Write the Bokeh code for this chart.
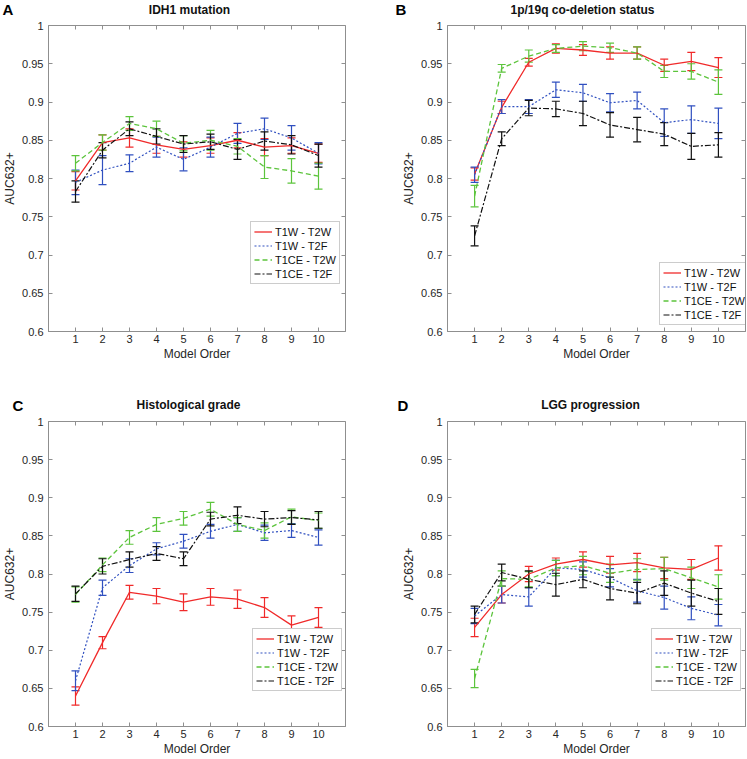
from bokeh.plotting import figure
from bokeh.models import (ColumnDataSource, Whisker, TeeHead, FixedTicker, Legend,
                          LegendItem, LinearAxis, Range1d, Label)
from bokeh.layouts import column, row
from bokeh.embed import file_html
from bokeh.resources import INLINE

# ---------------- data ----------------
model_order = [1, 2, 3, 4, 5, 6, 7, 8, 9, 10]
x_ticks = [1, 2, 3, 4, 5, 6, 7, 8, 9, 10]
x_tick_labels = ["1", "2", "3", "4", "5", "6", "7", "8", "9", "10"]
y_ticks = [0.6, 0.65, 0.7, 0.75, 0.8, 0.85, 0.9, 0.95, 1.0]
y_tick_labels = ["0.6", "0.65", "0.7", "0.75", "0.8", "0.85", "0.9", "0.95", "1"]
series_labels = ["T1W - T2W", "T1W - T2F", "T1CE - T2W", "T1CE - T2F"]
panel_letters = ["A", "B", "C", "D"]
panel_titles = ["IDH1 mutation", "1p/19q co-deletion status",
                "Histological grade", "LGG progression"]
x_label = "Model Order"
y_label = "AUC632+"

# A: IDH1 mutation
idh1_t1w_t2w = [0.797, 0.847, 0.853, 0.844, 0.838, 0.843, 0.850, 0.841, 0.843, 0.833]
idh1_t1w_t2w_err = [0.012, 0.010, 0.012, 0.011, 0.010, 0.010, 0.010, 0.011, 0.010, 0.012]
idh1_t1w_t2f = [0.795, 0.811, 0.820, 0.841, 0.825, 0.841, 0.859, 0.865, 0.853, 0.833]
idh1_t1w_t2f_err = [0.016, 0.019, 0.011, 0.013, 0.015, 0.013, 0.013, 0.014, 0.016, 0.014]
idh1_t1ce_t2w = [0.820, 0.847, 0.872, 0.865, 0.846, 0.850, 0.842, 0.815, 0.810, 0.803]
idh1_t1ce_t2w_err = [0.010, 0.010, 0.009, 0.010, 0.010, 0.013, 0.010, 0.015, 0.016, 0.017]
idh1_t1ce_t2f = [0.783, 0.837, 0.865, 0.855, 0.845, 0.848, 0.838, 0.849, 0.844, 0.830]
idh1_t1ce_t2f_err = [0.014, 0.010, 0.009, 0.010, 0.011, 0.010, 0.013, 0.012, 0.012, 0.015]

# B: 1p/19q co-deletion status
codel_t1w_t2w = [0.806, 0.893, 0.952, 0.970, 0.968, 0.964, 0.964, 0.948, 0.953, 0.945]
codel_t1w_t2w_err = [0.008, 0.008, 0.005, 0.006, 0.007, 0.008, 0.008, 0.008, 0.012, 0.013]
codel_t1w_t2f = [0.805, 0.894, 0.894, 0.916, 0.912, 0.899, 0.902, 0.873, 0.877, 0.872]
codel_t1w_t2f_err = [0.010, 0.009, 0.009, 0.010, 0.011, 0.012, 0.011, 0.018, 0.018, 0.020]
codel_t1ce_t2w = [0.777, 0.944, 0.960, 0.970, 0.973, 0.971, 0.964, 0.940, 0.940, 0.926]
codel_t1ce_t2w_err = [0.014, 0.005, 0.008, 0.005, 0.006, 0.006, 0.008, 0.008, 0.010, 0.016]
codel_t1ce_t2f = [0.725, 0.852, 0.892, 0.891, 0.885, 0.870, 0.864, 0.858, 0.842, 0.844]
codel_t1ce_t2f_err = [0.013, 0.009, 0.010, 0.010, 0.016, 0.016, 0.016, 0.015, 0.017, 0.016]

# C: Histological grade
grade_t1w_t2w = [0.640, 0.710, 0.776, 0.771, 0.763, 0.770, 0.767, 0.756, 0.733, 0.743]
grade_t1w_t2w_err = [0.012, 0.008, 0.009, 0.010, 0.011, 0.011, 0.012, 0.013, 0.012, 0.013]
grade_t1w_t2f = [0.660, 0.782, 0.811, 0.833, 0.843, 0.856, 0.865, 0.854, 0.857, 0.848]
grade_t1w_t2f_err = [0.013, 0.010, 0.009, 0.008, 0.009, 0.009, 0.009, 0.010, 0.009, 0.010]
grade_t1ce_t2w = [0.773, 0.812, 0.848, 0.865, 0.873, 0.885, 0.865, 0.857, 0.875, 0.870]
grade_t1ce_t2w_err = [0.010, 0.009, 0.009, 0.009, 0.009, 0.009, 0.009, 0.010, 0.010, 0.010]
grade_t1ce_t2f = [0.774, 0.810, 0.819, 0.827, 0.820, 0.872, 0.877, 0.872, 0.874, 0.871]
grade_t1ce_t2f_err = [0.010, 0.010, 0.010, 0.009, 0.009, 0.009, 0.011, 0.010, 0.009, 0.011]

# D: LGG progression
lgg_t1w_t2w = [0.730, 0.773, 0.800, 0.813, 0.819, 0.812, 0.815, 0.808, 0.806, 0.821]
lgg_t1w_t2w_err = [0.012, 0.011, 0.010, 0.008, 0.010, 0.011, 0.012, 0.014, 0.013, 0.016]
lgg_t1w_t2f = [0.745, 0.773, 0.770, 0.808, 0.806, 0.795, 0.778, 0.769, 0.755, 0.746]
lgg_t1w_t2f_err = [0.010, 0.011, 0.012, 0.010, 0.010, 0.012, 0.015, 0.015, 0.015, 0.014]
lgg_t1ce_t2w = [0.663, 0.794, 0.793, 0.808, 0.811, 0.801, 0.806, 0.807, 0.795, 0.783]
lgg_t1ce_t2w_err = [0.012, 0.010, 0.010, 0.010, 0.012, 0.012, 0.014, 0.015, 0.014, 0.016]
lgg_t1ce_t2f = [0.747, 0.802, 0.793, 0.786, 0.793, 0.781, 0.775, 0.788, 0.775, 0.764]
lgg_t1ce_t2f_err = [0.011, 0.011, 0.011, 0.015, 0.011, 0.015, 0.014, 0.016, 0.017, 0.017]

# ---------------- styles ----------------
FONT = "Liberation Sans"
AXIS_COLOR = "#8f8f8f"
TEXT_COLOR = "#262626"
COLORS = ["#f02a2a", "#3050c0", "#5cc43c", "#111111"]
DASHES = ["solid", "2 2", "5 3", "6 2 2 2"]
WIDTHS = [1.3, 1.2, 1.3, 1.2]

# ---------------- geometry (px) ----------------
TOTAL_W = 746
A_W, B_W = 390, 356
HEAD1_H, HEAD2_H = 18, 19
TOP_BORDERS_A = (48, 45, 7, 64)   # left, right, top, bottom
TOP_BORDERS_B = (57, 1, 7, 64)
BOT_BORDERS_A = (48, 45, 7, 31)
BOT_BORDERS_B = (57, 1, 7, 31)
TOP_FRAME_H, BOT_FRAME_H = 306, 306


def style_axis(ax, ticks, labels, label_text=None, show_labels=True, standoff=3, label_standoff=2):
    ax.ticker = FixedTicker(ticks=ticks)
    ax.major_label_overrides = dict(zip(ticks, labels))
    ax.axis_line_color = AXIS_COLOR if show_labels else None
    ax.major_tick_line_color = AXIS_COLOR
    ax.major_tick_in = 4
    ax.major_tick_out = 0
    ax.minor_tick_line_color = None
    if show_labels:
        ax.major_label_text_font = FONT
        ax.major_label_text_font_size = "11px"
        ax.major_label_text_color = TEXT_COLOR
        ax.major_label_standoff = standoff
        if label_text:
            ax.axis_label = label_text
            ax.axis_label_text_font = FONT
            ax.axis_label_text_font_size = "12px"
            ax.axis_label_text_font_style = "normal"
            ax.axis_label_text_color = TEXT_COLOR
            ax.axis_label_standoff = label_standoff
    else:
        ax.major_label_text_font_size = "1px"
        ax.major_label_text_color = None
        ax.major_label_standoff = 0


def make_panel(means, errs, width, frame_h, mb, legend_xy):
    left, right, top, bottom = mb
    p = figure(width=width, height=top + frame_h + bottom,
               x_range=Range1d(0, 11), y_range=Range1d(0.6, 1.0),
               output_backend="svg", toolbar_location=None,
               min_border_left=left, min_border_right=right,
               min_border_top=top, min_border_bottom=bottom)
    p.xgrid.visible = False
    p.ygrid.visible = False
    p.outline_line_color = AXIS_COLOR
    p.outline_line_width = 1
    p.background_fill_color = "white"
    p.border_fill_color = "white"

    style_axis(p.xaxis[0], x_ticks, x_tick_labels, x_label, standoff=3, label_standoff=1)
    style_axis(p.yaxis[0], y_ticks, y_tick_labels, y_label, standoff=5, label_standoff=2)
    top_ax = LinearAxis()
    style_axis(top_ax, x_ticks, x_tick_labels, show_labels=False)
    p.add_layout(top_ax, "above")
    right_ax = LinearAxis()
    style_axis(right_ax, y_ticks, y_tick_labels, show_labels=False)
    p.add_layout(right_ax, "right")

    items = []
    for i in range(4):
        m = means[i]
        e = errs[i]
        src = ColumnDataSource(dict(x=model_order, y=m,
                                    upper=[a + b for a, b in zip(m, e)],
                                    lower=[a - b for a, b in zip(m, e)]))
        w = Whisker(base="x", upper="upper", lower="lower", source=src,
                    line_color=COLORS[i], line_width=1.2,
                    upper_head=TeeHead(size=8, line_color=COLORS[i], line_width=1.2),
                    lower_head=TeeHead(size=8, line_color=COLORS[i], line_width=1.2))
        p.add_layout(w)
        r = p.line("x", "y", source=src, line_color=COLORS[i], line_width=WIDTHS[i],
                   line_dash=DASHES[i])
        items.append(LegendItem(label=series_labels[i], renderers=[r]))

    legend = Legend(items=items, location=legend_xy,
                    label_text_font=FONT, label_text_font_size="11px",
                    label_text_color="#111111",
                    label_height=13, glyph_height=13, glyph_width=18,
                    label_standoff=3, spacing=1, padding=3, margin=0,
                    border_line_color="#9a9a9a", border_line_width=1,
                    background_fill_color="white", background_fill_alpha=1.0)
    p.add_layout(legend)
    return p


def make_header(height, letters, letter_xy, titles, title_xy):
    """A thin text-only strip (page pixels map 1:1 to its data space, y up)."""
    h = figure(width=TOTAL_W, height=height, x_range=Range1d(0, TOTAL_W),
               y_range=Range1d(0, height), output_backend="svg", toolbar_location=None,
               x_axis_location=None, y_axis_location=None,
               min_border_left=0, min_border_right=0, min_border_top=0, min_border_bottom=0)
    h.title.visible = False
    h.xgrid.visible = False
    h.ygrid.visible = False
    h.outline_line_color = None
    h.background_fill_color = "white"
    h.border_fill_color = "white"
    for txt, (x, y) in zip(letters, letter_xy):
        h.add_layout(Label(x=x, y=y, text=txt, text_align="left", text_baseline="middle",
                           text_font=FONT, text_font_size="15px", text_font_style="bold",
                           text_color="#000000"))
    for txt, (x, y) in zip(titles, title_xy):
        h.add_layout(Label(x=x, y=y, text=txt, text_align="center", text_baseline="middle",
                           text_font=FONT, text_font_size="12px", text_font_style="bold",
                           text_color="#111111"))
    return h


# header 1 spans page y 0-18 ; header 2 spans page y 395-414 (texts centred vertically)
head1 = make_header(HEAD1_H, panel_letters[0:2], [(2, 9), (395, 9)],
                    panel_titles[0:2], [(189, 9), (582, 9)])
head2 = make_header(HEAD2_H, panel_letters[2:4], [(12, 9.5), (397, 9.5)],
                    panel_titles[2:4], [(188, 9.5), (590, 9.5)])

pA = make_panel([idh1_t1w_t2w, idh1_t1w_t2f, idh1_t1ce_t2w, idh1_t1ce_t2f],
                [idh1_t1w_t2w_err, idh1_t1w_t2f_err, idh1_t1ce_t2w_err, idh1_t1ce_t2f_err],
                A_W, TOP_FRAME_H, TOP_BORDERS_A, (202, 47))
pB = make_panel([codel_t1w_t2w, codel_t1w_t2f, codel_t1ce_t2w, codel_t1ce_t2f],
                [codel_t1w_t2w_err, codel_t1w_t2f_err, codel_t1ce_t2w_err, codel_t1ce_t2f_err],
                B_W, TOP_FRAME_H, TOP_BORDERS_B, (212, 6))
pC = make_panel([grade_t1w_t2w, grade_t1w_t2f, grade_t1ce_t2w, grade_t1ce_t2f],
                [grade_t1w_t2w_err, grade_t1w_t2f_err, grade_t1ce_t2w_err, grade_t1ce_t2f_err],
                A_W, BOT_FRAME_H, BOT_BORDERS_A, (204, 35))
pD = make_panel([lgg_t1w_t2w, lgg_t1w_t2f, lgg_t1ce_t2w, lgg_t1ce_t2f],
                [lgg_t1w_t2w_err, lgg_t1w_t2f_err, lgg_t1ce_t2w_err, lgg_t1ce_t2f_err],
                B_W, BOT_FRAME_H, BOT_BORDERS_B, (204, 35))

layout = column(head1, row(pA, pB, spacing=0), head2, row(pC, pD, spacing=0), spacing=0)
open("out.html", "w").write(file_html(layout, INLINE))
